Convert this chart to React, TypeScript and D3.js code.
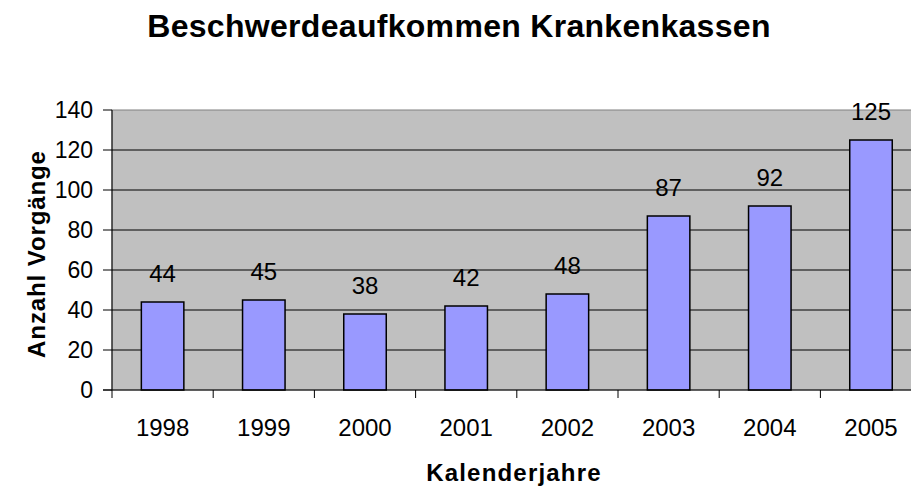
import React from "react";
import * as d3 from "d3";

const years = ["1998", "1999", "2000", "2001", "2002", "2003", "2004", "2005"];
const values = [44, 45, 38, 42, 48, 87, 92, 125];
const yTicks = [0, 20, 40, 60, 80, 100, 120, 140];

const W = 911;
const H = 486;
const M = { left: 112, top: 110, right: 921.6, bottom: 390 };
const FONT = "Liberation Sans, Arial, sans-serif";

export default function App() {
  const x = d3.scaleBand<string>().domain(years).range([M.left, M.right]).paddingInner(0.58).paddingOuter(0.29);
  const xb = d3.scaleBand<string>().domain(years).range([M.left, M.right]);
  const y = d3.scaleLinear().domain([0, 140]).range([M.bottom, M.top]);

  return (
    <svg width={W} height={H} style={{ position: "absolute", left: 0, top: 0, display: "block" }} fontFamily={FONT}>
      <rect x={0} y={0} width={W} height={H} fill="#ffffff" />
      <rect x={M.left} y={M.top} width={M.right - M.left} height={M.bottom - M.top} fill="#c0c0c0" stroke="#808080" strokeWidth={1} />
      {yTicks.filter((t) => t > 0 && t < 140).map((t) => (
        <line key={t} x1={M.left} x2={M.right} y1={y(t)} y2={y(t)} stroke="#000" strokeWidth={1} />
      ))}
      {years.map((yr, i) => (
        <g key={yr}>
          <rect x={x(yr)} y={y(values[i])} width={x.bandwidth()} height={y(0) - y(values[i])} fill="#9999ff" stroke="#000" strokeWidth={1.5} />
          <text x={(x(yr) as number) + x.bandwidth() / 2} y={y(values[i]) - 20} textAnchor="middle" fontSize={24} fill="#000">{values[i]}</text>
        </g>
      ))}
      <line x1={M.left} x2={M.left} y1={M.top} y2={M.bottom} stroke="#000" strokeWidth={1} />
      <line x1={M.left - 9} x2={M.right} y1={M.bottom} y2={M.bottom} stroke="#000" strokeWidth={1} />
      {yTicks.map((t) => (
        <g key={t}>
          <line x1={M.left - 9} x2={M.left} y1={y(t)} y2={y(t)} stroke="#000" strokeWidth={1} />
          <text x={93} y={y(t) + 8} textAnchor="end" fontSize={23} fill="#000">{t}</text>
        </g>
      ))}
      {years.map((yr) => (
        <line key={"t" + yr} x1={xb(yr)} x2={xb(yr)} y1={M.bottom} y2={M.bottom + 8} stroke="#000" strokeWidth={1} />
      ))}
      {years.map((yr) => (
        <text key={"l" + yr} x={(xb(yr) as number) + xb.bandwidth() / 2} y={436} textAnchor="middle" fontSize={24} fill="#000">{yr}</text>
      ))}
      <text x={459} y={37} textAnchor="middle" fontSize={32} fontWeight="bold" letterSpacing={0.3} fill="#000">Beschwerdeaufkommen Krankenkassen</text>
      <text x={514} y={481} textAnchor="middle" fontSize={24} fontWeight="bold" letterSpacing={1.2} fill="#000">Kalenderjahre</text>
      <text transform={`translate(45,254) rotate(-90)`} textAnchor="middle" fontSize={24} fontWeight="bold" letterSpacing={0.9} fill="#000">Anzahl Vorgänge</text>
    </svg>
  );
}
